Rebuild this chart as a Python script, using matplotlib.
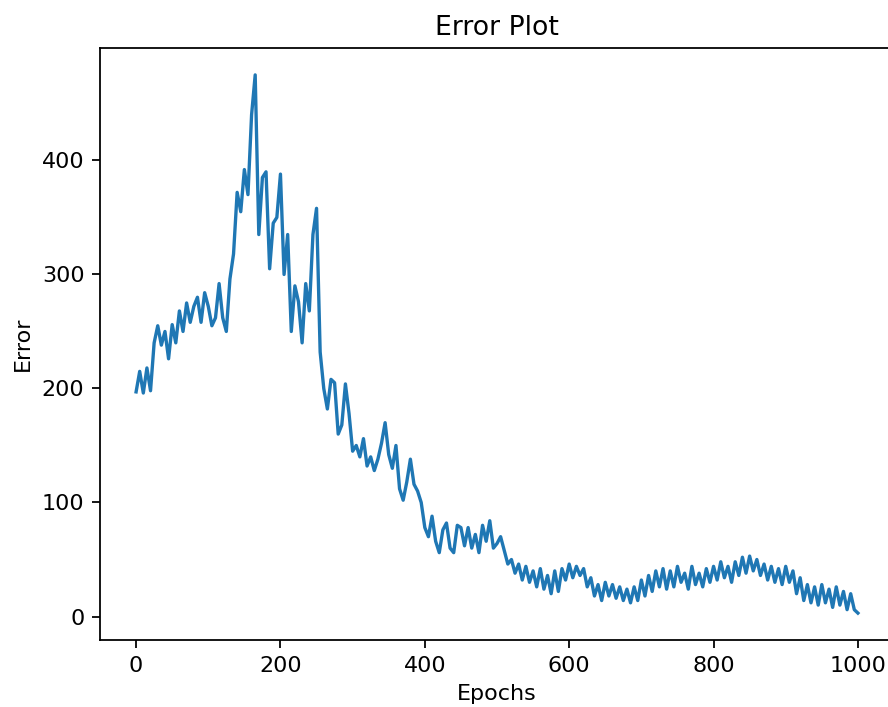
import numpy as np
import matplotlib
matplotlib.use("Agg")
import matplotlib.pyplot as plt

# error values, one every 5 epochs
epochs = np.arange(0, 1001, 5)
error = [
    197, 215, 196, 218, 198, 240, 255, 238, 250, 226,
    256, 240, 268, 250, 275, 258, 272, 280, 258, 284,
    272, 255, 262, 292, 262, 250, 296, 318, 372, 355,
    392, 370, 440, 475, 335, 385, 390, 305, 345, 350,
    388, 300, 335, 250, 290, 276, 240, 292, 268, 335,
    358, 232, 200, 182, 208, 205, 160, 168, 204, 178,
    145, 150, 140, 156, 132, 140, 128, 138, 152, 170,
    142, 130, 150, 112, 102, 118, 138, 116, 110, 100,
    78, 70, 88, 66, 56, 76, 82, 60, 56, 80,
    78, 62, 78, 60, 72, 56, 80, 66, 84, 60,
    64, 70, 58, 46, 50, 38, 46, 32, 44, 30,
    40, 26, 42, 24, 36, 20, 40, 22, 42, 32,
    46, 34, 44, 36, 42, 26, 34, 18, 28, 14,
    30, 18, 28, 16, 26, 14, 24, 12, 26, 14,
    32, 18, 36, 22, 40, 26, 42, 24, 40, 26,
    44, 30, 38, 24, 44, 28, 38, 26, 42, 30,
    44, 32, 48, 34, 44, 30, 48, 36, 52, 38,
    53, 40, 50, 36, 46, 32, 44, 30, 42, 28,
    44, 30, 40, 20, 34, 14, 28, 12, 26, 10,
    28, 12, 24, 8, 26, 10, 22, 6, 20, 6,
    3,
]

fig = plt.figure(figsize=(888 / 160, 707 / 160), dpi=160)
# axes runs past the right edge, like the cropped reference
ax = fig.add_axes([100 / 888, 1 - 640 / 707, 794 / 888, 592 / 707])
ax.plot(epochs, error, color='#1f77b4', linewidth=1.5)
ax.set_title('Error Plot')
ax.set_xlabel('Epochs')
ax.set_ylabel('Error')
ax.set_xticks([0, 200, 400, 600, 800, 1000])
ax.set_yticks([0, 100, 200, 300, 400])

fig.savefig('out.png', dpi=160)
